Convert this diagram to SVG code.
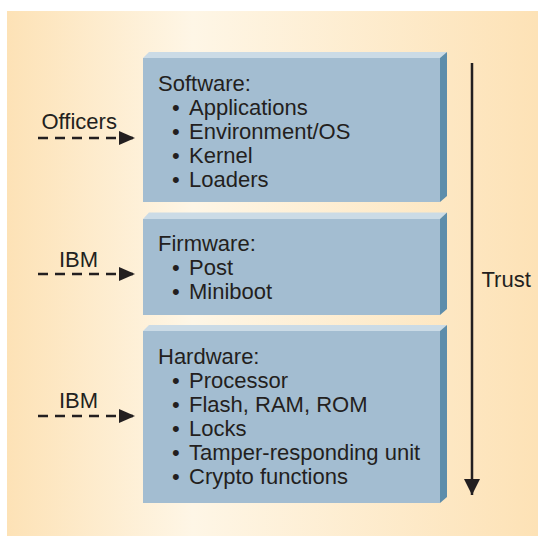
<svg xmlns="http://www.w3.org/2000/svg" width="538" height="536" viewBox="0 0 538 536">
<defs>
<linearGradient id="bg" x1="0" y1="0" x2="1" y2="0">
<stop offset="0" stop-color="#fde2b6"/>
<stop offset="0.35" stop-color="#fef6e6"/>
<stop offset="1" stop-color="#fde2b6"/>
</linearGradient>
<marker id="ah" viewBox="0 0 16 14" refX="16" refY="7" markerWidth="16" markerHeight="14" markerUnits="userSpaceOnUse" orient="auto">
<path d="M0,0 L16,7 L0,14 Z" fill="#231f20"/>
</marker>
<marker id="ahT" viewBox="0 0 16 16" refX="16" refY="8" markerWidth="16" markerHeight="16" markerUnits="userSpaceOnUse" orient="auto">
<path d="M0,0 L16,8 L0,16 Z" fill="#231f20"/>
</marker>
</defs>
<style>
.front{fill:#a3bdd1}
.top{fill:#cbdbe6}
.side{fill:#5d8dab}
text{font-family:"Liberation Sans",Arial,sans-serif;font-size:22px;fill:#231f20}
.dash{stroke:#231f20;stroke-width:2.5;stroke-dasharray:10 7;fill:none}
</style>
<rect x="7" y="11" width="531" height="525" fill="url(#bg)"/>

<g id="software">
<polygon class="top" points="143,58 149,52 447,52 440,58"/>
<polygon class="side" points="440,58 447,52 447,196 440,202"/>
<rect class="front" x="143" y="58" width="297" height="144"/>
<text x="158" y="90.5">Software:</text>
<text x="172" y="114.5">•<tspan x="189">Applications</tspan></text>
<text x="172" y="138.5">•<tspan x="189">Environment/OS</tspan></text>
<text x="172" y="162.5">•<tspan x="189">Kernel</tspan></text>
<text x="172" y="186.5">•<tspan x="189">Loaders</tspan></text>
</g>

<g id="firmware">
<polygon class="top" points="143,219 149,212.5 447,212.5 440,219"/>
<polygon class="side" points="440,219 447,212.5 447,309 440,315"/>
<rect class="front" x="143" y="219" width="297" height="96"/>
<text x="158" y="251">Firmware:</text>
<text x="172" y="275">•<tspan x="189">Post</tspan></text>
<text x="172" y="299">•<tspan x="189">Miniboot</tspan></text>
</g>

<g id="hardware">
<polygon class="top" points="143,331 149,325 447,325 440,331"/>
<polygon class="side" points="440,331 447,325 447,497 440,503"/>
<rect class="front" x="143" y="331" width="297" height="172"/>
<text x="158" y="364">Hardware:</text>
<text x="172" y="388">•<tspan x="189">Processor</tspan></text>
<text x="172" y="412">•<tspan x="189">Flash, RAM, ROM</tspan></text>
<text x="172" y="436">•<tspan x="189">Locks</tspan></text>
<text x="172" y="460">•<tspan x="189">Tamper-responding unit</tspan></text>
<text x="172" y="484">•<tspan x="189">Crypto functions</tspan></text>
</g>

<g id="labels">
<text x="41.5" y="128.5">Officers</text>
<text x="59" y="266.5">IBM</text>
<text x="59" y="408">IBM</text>
<text x="481.5" y="286.5">Trust</text>
</g>

<g id="connectors">
<line class="dash" x1="38" y1="138" x2="135" y2="138" marker-end="url(#ah)"/>
<line class="dash" x1="38" y1="274" x2="135" y2="274" marker-end="url(#ah)"/>
<line class="dash" x1="38" y1="416" x2="135" y2="416" marker-end="url(#ah)"/>
<line x1="472" y1="63" x2="472" y2="495" stroke="#231f20" stroke-width="2.5" marker-end="url(#ahT)"/>
</g>
</svg>
